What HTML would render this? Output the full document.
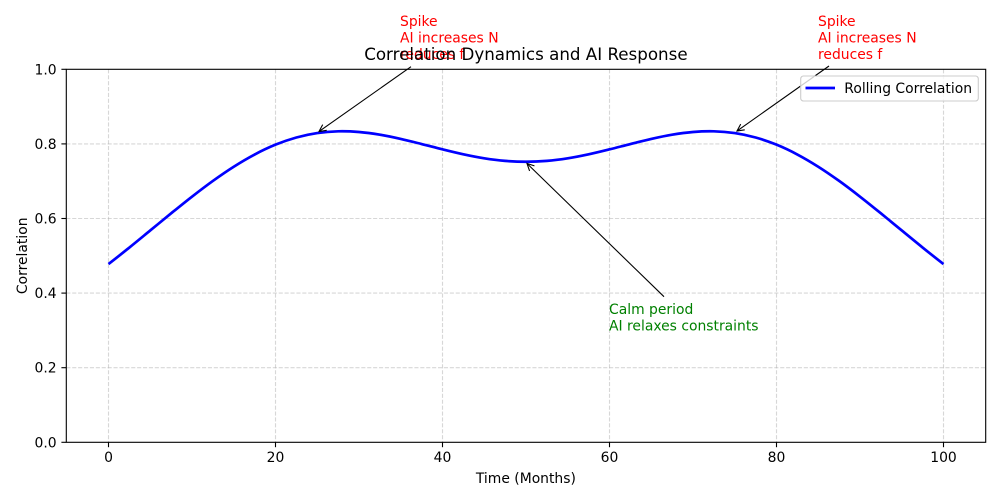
<!DOCTYPE html>
<html><head><meta charset="utf-8"><style>
html,body{margin:0;padding:0;background:#fff;}
svg{display:block;font-family:"DejaVu Sans","Liberation Sans",sans-serif;}
</style></head><body>
<svg width="1000" height="500" viewBox="0 0 1000 500" xmlns="http://www.w3.org/2000/svg">
<defs>
<marker id="ah" markerUnits="userSpaceOnUse" markerWidth="20" markerHeight="20" viewBox="-10 -10 20 20" refX="0" refY="0" orient="auto">
<path d="M-7,-3.5 L0,0 L-7,3.5" fill="none" stroke="#000" stroke-width="1.1"/>
</marker>
</defs>
<rect width="1000" height="500" fill="#fff"/>
<!-- grid -->
<g stroke="#b0b0b0" stroke-opacity="0.5" stroke-width="1.1" stroke-dasharray="4.1,1.8">
<line x1="108.5" y1="69.3" x2="108.5" y2="442.3"/>
<line x1="275.5" y1="69.3" x2="275.5" y2="442.3"/>
<line x1="442.5" y1="69.3" x2="442.5" y2="442.3"/>
<line x1="609.5" y1="69.3" x2="609.5" y2="442.3"/>
<line x1="776.5" y1="69.3" x2="776.5" y2="442.3"/>
<line x1="943.5" y1="69.3" x2="943.5" y2="442.3"/>
<line x1="66.3" y1="367.7" x2="985.7" y2="367.7"/>
<line x1="66.3" y1="293.1" x2="985.7" y2="293.1"/>
<line x1="66.3" y1="218.5" x2="985.7" y2="218.5"/>
<line x1="66.3" y1="143.9" x2="985.7" y2="143.9"/>
</g>
<!-- curve -->
<path fill="none" stroke="#0000ff" stroke-width="2.7" stroke-linecap="butt" stroke-linejoin="round" d="M108.5,264.04
C115.46,258.69 122.42,253.13 129.38,247.53
C136.34,241.94 143.29,236.17 150.25,230.47
C157.21,224.77 164.17,218.97 171.13,213.33
C178.09,207.69 185.04,202.03 192,196.63
C198.96,191.23 205.92,185.90 212.88,180.91
C219.84,175.92 226.79,171.11 233.75,166.71
C240.71,162.31 247.67,158.18 254.63,154.51
C261.59,150.84 268.54,147.52 275.5,144.68
C282.46,141.85 289.42,139.44 296.38,137.50
C303.34,135.57 310.29,134.10 317.25,133.07
C324.21,132.04 331.17,131.48 338.13,131.30
C345.09,131.12 352.04,131.42 359,131.98
C365.96,132.55 372.92,133.54 379.88,134.69
C386.84,135.85 393.79,137.36 400.75,138.91
C407.71,140.47 414.67,142.28 421.63,144.02
C428.59,145.76 435.54,147.66 442.5,149.37
C449.46,151.09 456.42,152.82 463.38,154.31
C470.34,155.80 477.29,157.21 484.25,158.30
C491.21,159.40 498.17,160.30 505.13,160.88
C512.09,161.46 519.04,161.78 526,161.78
C532.96,161.78 539.91,161.46 546.88,160.88
C553.83,160.30 560.79,159.40 567.75,158.30
C574.71,157.21 581.66,155.80 588.63,154.31
C595.58,152.82 602.54,151.09 609.5,149.37
C616.46,147.66 623.41,145.76 630.38,144.02
C637.33,142.28 644.29,140.47 651.25,138.91
C658.21,137.36 665.16,135.85 672.13,134.69
C679.08,133.54 686.04,132.55 693,131.98
C699.96,131.42 706.91,131.12 713.88,131.30
C720.83,131.48 727.79,132.04 734.75,133.07
C741.71,134.10 748.66,135.57 755.63,137.50
C762.58,139.44 769.54,141.85 776.5,144.68
C783.46,147.52 790.41,150.84 797.38,154.51
C804.33,158.18 811.29,162.31 818.25,166.71
C825.21,171.11 832.16,175.92 839.13,180.91
C846.08,185.90 853.04,191.23 860,196.63
C866.96,202.03 873.91,207.69 880.88,213.33
C887.83,218.97 894.79,224.77 901.75,230.47
C908.71,236.17 915.66,241.94 922.63,247.53
C929.58,253.13 936.54,258.69 943.5,264.04"/>
<!-- spines -->
<rect x="66.3" y="69.3" width="919.4" height="373" fill="none" stroke="#000" stroke-width="1.1"/>
<!-- ticks -->
<g stroke="#000" stroke-width="1.1">
<line x1="108.5" y1="442.3" x2="108.5" y2="447.2"/>
<line x1="275.5" y1="442.3" x2="275.5" y2="447.2"/>
<line x1="442.5" y1="442.3" x2="442.5" y2="447.2"/>
<line x1="609.5" y1="442.3" x2="609.5" y2="447.2"/>
<line x1="776.5" y1="442.3" x2="776.5" y2="447.2"/>
<line x1="943.5" y1="442.3" x2="943.5" y2="447.2"/>
<line x1="61.4" y1="442.3" x2="66.3" y2="442.3"/>
<line x1="61.4" y1="367.7" x2="66.3" y2="367.7"/>
<line x1="61.4" y1="293.1" x2="66.3" y2="293.1"/>
<line x1="61.4" y1="218.5" x2="66.3" y2="218.5"/>
<line x1="61.4" y1="143.9" x2="66.3" y2="143.9"/>
<line x1="61.4" y1="69.3" x2="66.3" y2="69.3"/>
</g>
<g font-size="13.9" fill="#000" text-anchor="middle">
<text x="108.5" y="462">0</text>
<text x="275.5" y="462">20</text>
<text x="442.5" y="462">40</text>
<text x="609.5" y="462">60</text>
<text x="776.5" y="462">80</text>
<text x="943.5" y="462">100</text>
</g>
<g font-size="13.9" fill="#000" text-anchor="end">
<text x="56.6" y="447.3">0.0</text>
<text x="56.6" y="372.7">0.2</text>
<text x="56.6" y="298.1">0.4</text>
<text x="56.6" y="223.5">0.6</text>
<text x="56.6" y="148.9">0.8</text>
<text x="56.6" y="74.3">1.0</text>
</g>
<text x="525.9" y="483" font-size="13.9" text-anchor="middle">Time (Months)</text>
<text x="0" y="0" font-size="13.9" text-anchor="middle" transform="translate(27,255.8) rotate(-90)">Correlation</text>
<!-- annotations -->
<g font-size="13.9" fill="#ff0000">
<text x="400" y="26">Spike</text>
<text x="400" y="42.6">AI increases N</text>
<text x="400" y="59.2">reduces f</text>
<text x="818" y="26">Spike</text>
<text x="818" y="42.6">AI increases N</text>
<text x="818" y="59.2">reduces f</text>
</g>
<g font-size="13.9" fill="#008000">
<text x="609" y="314">Calm period</text>
<text x="609" y="330.5">AI relaxes constraints</text>
</g>
<g stroke="#000" stroke-width="1.1" fill="none">
<line x1="411" y1="66.7" x2="319" y2="131.5" marker-end="url(#ah)"/>
<line x1="829" y1="66" x2="737" y2="131" marker-end="url(#ah)"/>
<line x1="664" y1="296.7" x2="527" y2="163.5" marker-end="url(#ah)"/>
</g>
<!-- title -->
<text x="525.9" y="60" font-size="16.7" text-anchor="middle" fill="#000">Correlation Dynamics and AI Response</text>
<!-- legend -->
<rect x="800.7" y="76" width="177.6" height="25" rx="2.8" fill="#fff" fill-opacity="0.8" stroke="#cccccc" stroke-width="1.1"/>
<line x1="805.5" y1="88" x2="835" y2="88" stroke="#0000ff" stroke-width="2.7"/>
<text x="844.3" y="92.8" font-size="13.9" fill="#000">Rolling Correlation</text>
</svg>
</body></html>
